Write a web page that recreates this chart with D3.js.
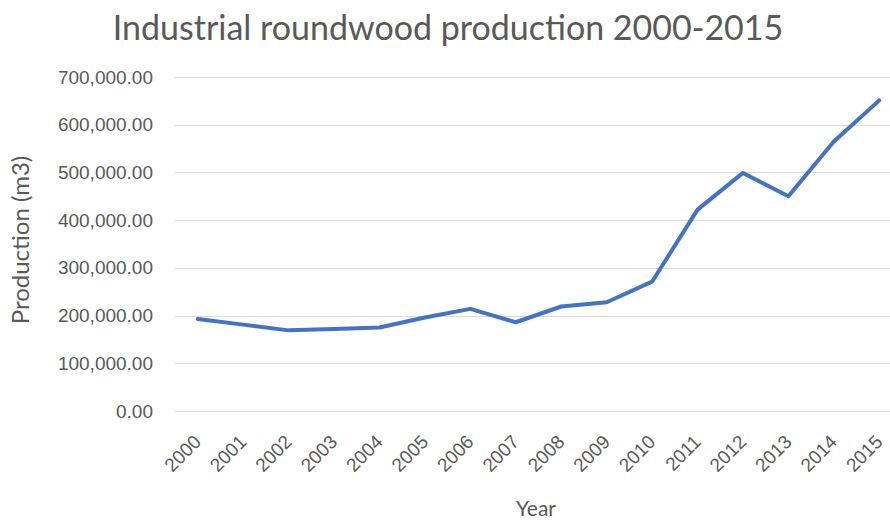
<!DOCTYPE html>
<html>
<head>
<meta charset="utf-8">
<script src="https://cdn.jsdelivr.net/npm/d3@7"></script>
<style>
  body { margin: 0; background: #fff; }
  svg { display: block; font-family: Lato, "Open Sans", sans-serif; }
</style>
</head>
<body>
<svg id="chart" width="890" height="520"></svg>
<script>
// Data
const years = ["2000", "2001", "2002", "2003", "2004", "2005", "2006", "2007",
  "2008", "2009", "2010", "2011", "2012", "2013", "2014", "2015"]
const production = [193000, 181000, 169000, 172000, 175000, 196000, 214000, 186000,
  219000, 228000, 271000, 422000, 499000, 450000, 565000, 651000]
const yTicks = [0, 100000, 200000, 300000, 400000, 500000, 600000, 700000]

const margin = { top: 77, right: -12, bottom: 109, left: 175 }
const width = 890
const height = 520
const textColor = "#595959"

const svg = d3.select("#chart")

const x = d3.scalePoint()
  .domain(years)
  .range([margin.left, width - margin.right])
  .padding(0.5)

const y = d3.scaleLinear()
  .domain([0, 700000])
  .range([height - margin.bottom, margin.top])

// Gridlines
svg.append("g")
  .selectAll("line")
  .data(yTicks)
  .join("line")
  .attr("x1", margin.left)
  .attr("x2", width)
  .attr("y1", d => Math.round(y(d)) + 0.5)
  .attr("y2", d => Math.round(y(d)) + 0.5)
  .attr("stroke", "#d9d9d9")
  .attr("stroke-width", 1)

// Y axis labels
const fmt = d3.format(",.2f")
const yAxis = svg.append("g")
  .attr("transform", `translate(${margin.left - 22},0)`)
  .call(d3.axisLeft(y).tickValues(yTicks).tickFormat(fmt).tickSize(0).tickPadding(0))
yAxis.select(".domain").remove()
yAxis.selectAll("text")
  .attr("fill", textColor)
  .attr("font-size", "19px")

// X axis labels, rotated
const xAxis = svg.append("g")
  .attr("transform", `translate(0,${height - margin.bottom})`)
  .call(d3.axisBottom(x).tickSize(0).tickPadding(0))
xAxis.select(".domain").remove()
xAxis.selectAll("text")
  .attr("fill", textColor)
  .attr("font-size", "19px")
  .attr("text-anchor", "end")
  .attr("dy", 0)
  .attr("transform", "translate(4,32) rotate(-45)")

// Line
const line = d3.line()
  .x((d, i) => x(years[i]))
  .y(d => y(d))

svg.append("path")
  .datum(production)
  .attr("fill", "none")
  .attr("stroke", "#4472c4")
  .attr("stroke-width", 4)
  .attr("stroke-linejoin", "round")
  .attr("stroke-linecap", "round")
  .attr("d", line)

// Titles
svg.append("text")
  .attr("x", 448)
  .attr("y", 40)
  .attr("text-anchor", "middle")
  .attr("font-size", "34px")
  .attr("fill", textColor)
  .text("Industrial roundwood production 2000-2015")

svg.append("text")
  .attr("transform", "translate(29,240) rotate(-90)")
  .attr("text-anchor", "middle")
  .attr("font-size", "24px")
  .attr("fill", textColor)
  .text("Production (m3)")

svg.append("text")
  .attr("x", 536)
  .attr("y", 516)
  .attr("text-anchor", "middle")
  .attr("font-size", "21px")
  .attr("fill", textColor)
  .text("Year")
</script>
</body>
</html>
